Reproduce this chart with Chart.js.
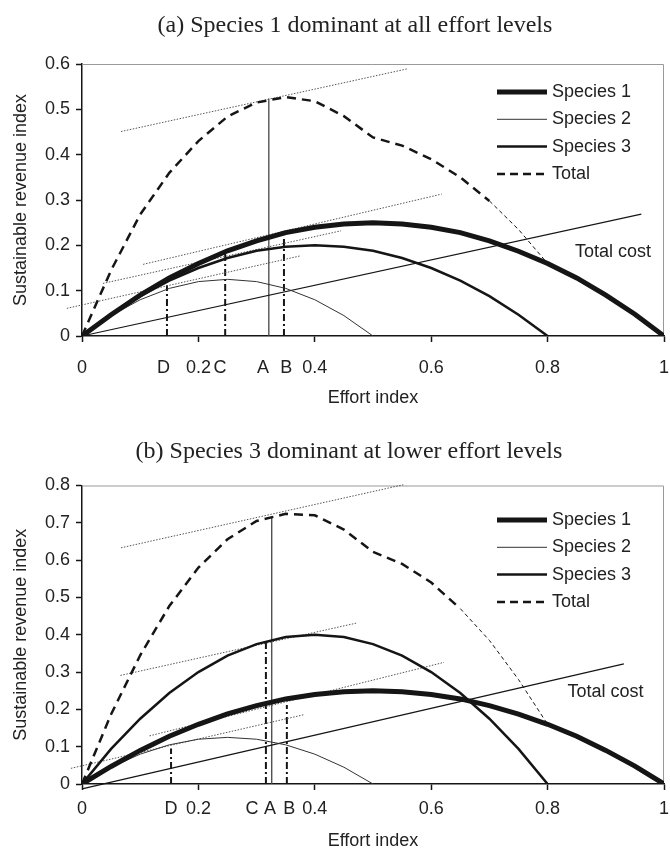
<!DOCTYPE html>
<html lang="en">
<head>
  <meta charset="UTF-8" />
  <title>Sustainable revenue and effort</title>
  <style>
    body { margin: 0; background: #fff; }
    .panel { position: relative; width: 670px; height: 426px; }
    .panel canvas { display: block; }
    .title {
      position: absolute; left: 0; top: 9px; margin: 0;
      font: normal 24px "Liberation Serif", "Times New Roman", serif;
      line-height: 30px; text-align: center; color: #222;
    }
  </style>
</head>
<body>

  <div class="panel">
    <h2 class="title" style="width: 710px;">(a) Species 1 dominant at all effort levels</h2>
    <canvas id="chartA" width="670" height="426"></canvas>
  </div>
  <div class="panel">
    <h2 class="title" style="width: 698px;">(b) Species 3 dominant at lower effort levels</h2>
    <canvas id="chartB" width="670" height="426"></canvas>
  </div>

  <script src="https://cdn.jsdelivr.net/npm/chart.js"></script>
  <script>
    // effort index grid used by all curves
    const effort = [0, 0.05, 0.1, 0.15, 0.2, 0.25, 0.3, 0.35, 0.4, 0.45, 0.5,
                    0.55, 0.6, 0.65, 0.7, 0.75, 0.8, 0.85, 0.9, 0.95, 1];

    const xTickValues = [0, 0.2, 0.4, 0.6, 0.8, 1];
    const markNames = ['D', 'C', 'A', 'B'];

    // (a) Species 1 dominant
    const species1A = [0, 0.047, 0.09, 0.128, 0.16, 0.188, 0.21, 0.228, 0.24, 0.247, 0.25,
                       0.247, 0.24, 0.228, 0.21, 0.187, 0.16, 0.128, 0.09, 0.048, 0];
    const species2A = [0, 0.045, 0.08, 0.105, 0.12, 0.125, 0.12, 0.105, 0.08, 0.045, 0];
    const species3A = [0, 0.047, 0.088, 0.122, 0.15, 0.172, 0.188, 0.197, 0.2, 0.197, 0.188,
                       0.172, 0.15, 0.122, 0.088, 0.047, 0];
    const totalA = [0, 0.145, 0.268, 0.36, 0.43, 0.484, 0.515, 0.527, 0.518, 0.485, 0.438,
                    0.42, 0.39, 0.35, 0.298, 0.235, 0.16, 0.128, 0.09, 0.048, 0];
    const costA = [[0, 0], [0.961, 0.269]];
    const tangentsA = [
      [0.067, 0.451, 0.558, 0.589],
      [0.105, 0.158, 0.618, 0.313],
      [0.036, 0.116, 0.445, 0.232],
      [-0.026, 0.061, 0.376, 0.177]
    ];
    const markXA = [0.146, 0.246, 0.321, 0.347];
    const markTopA = [0.112, 0.185, 0.524, 0.22];
    const markLabelXA = [0.140, 0.237, 0.311, 0.351];

    // (b) Species 3 dominant at lower effort
    const species1B = [0, 0.047, 0.09, 0.128, 0.16, 0.188, 0.21, 0.228, 0.24, 0.247, 0.25,
                       0.247, 0.24, 0.228, 0.21, 0.187, 0.16, 0.128, 0.09, 0.048, 0];
    const species2B = [0, 0.045, 0.08, 0.105, 0.12, 0.125, 0.12, 0.105, 0.08, 0.045, 0];
    const species3B = [0, 0.094, 0.175, 0.244, 0.3, 0.344, 0.375, 0.394, 0.4, 0.394, 0.375,
                       0.344, 0.3, 0.244, 0.175, 0.094, 0];
    const totalB = [0, 0.187, 0.345, 0.477, 0.58, 0.656, 0.705, 0.724, 0.72, 0.682, 0.622,
                    0.59, 0.54, 0.47, 0.385, 0.28, 0.16, 0.128, 0.09, 0.048, 0];
    const costB = [[0, -0.013], [0.931, 0.322]];
    const tangentsB = [
      [0.067, 0.633, 0.552, 0.802],
      [0.066, 0.291, 0.471, 0.431],
      [0.116, 0.129, 0.622, 0.326],
      [-0.019, 0.042, 0.382, 0.186]
    ];
    const markXB = [0.153, 0.316, 0.326, 0.352];
    const markTopB = [0.095, 0.384, 0.713, 0.212];
    const markLabelXB = [0.153, 0.292, 0.323, 0.356];

    const INK = '#151515';
    const SANS = '"Liberation Sans", Arial, sans-serif';

    function curve(ys) {
      return ys.map((y, i) => ({x: effort[i], y}));
    }

    function pair(p) {
      return p.map(([x, y]) => ({x, y}));
    }

    function line(data, extra) {
      return Object.assign({
        data,
        borderColor: INK,
        borderWidth: 1,
        pointRadius: 0,
        pointHoverRadius: 0,
        tension: 0,
        fill: false
      }, extra);
    }

    function buildDatasets(p) {
      const sets = [
        line(curve(p.s1), {label: 'Species 1', borderWidth: 5, inLegend: true}),
        line(curve(p.s2), {label: 'Species 2', borderWidth: 1, borderColor: '#333', inLegend: true}),
        line(curve(p.s3), {label: 'Species 3', borderWidth: 2.5, inLegend: true}),
        line(curve(p.total), {
          label: 'Total', borderWidth: 2.5, borderDash: [9, 6], inLegend: true,
          segment: {
            borderWidth: ctx => ctx.p0.parsed.x >= p.thinFrom && ctx.p0.parsed.x < 0.8 ? 1 : undefined,
            borderDash: ctx => ctx.p0.parsed.x >= p.thinFrom && ctx.p0.parsed.x < 0.8 ? [4, 3] : undefined
          }
        }),
        line(pair(p.cost), {label: 'Total cost', borderWidth: 1.2, clip: false})
      ];
      p.tangents.forEach(t => {
        sets.push(line(pair([[t[0], t[1]], [t[2], t[3]]]), {
          label: 'tangent', borderColor: '#555', borderWidth: 1, borderDash: [1.5, 1.5], clip: false
        }));
      });
      markNames.forEach((name, i) => {
        const solid = name === 'A';
        sets.push(line(pair([[p.markX[i], 0], [p.markX[i], p.markTop[i]]]), {
          label: name,
          borderColor: solid ? '#444' : INK,
          borderWidth: solid ? 1.3 : 2,
          borderDash: solid ? [] : [7, 3, 2, 3]
        }));
      });
      return sets;
    }

    const framePlugin = {
      id: 'frame',
      beforeDatasetsDraw(chart) {
        const {ctx, chartArea: a} = chart;
        ctx.save();
        ctx.strokeStyle = '#999';
        ctx.lineWidth = 1;
        ctx.beginPath();
        ctx.moveTo(a.left, a.top + 0.5);
        ctx.lineTo(a.right - 0.5, a.top + 0.5);
        ctx.lineTo(a.right - 0.5, a.bottom);
        ctx.stroke();
        ctx.restore();
      }
    };

    const sideLegend = {
      id: 'sideLegend',
      afterDatasetsDraw(chart, args, opts) {
        const {ctx, chartArea: a, scales} = chart;
        ctx.save();
        ctx.font = '18px ' + SANS;
        ctx.textBaseline = 'middle';
        ctx.fillStyle = '#222';
        chart.data.datasets.filter(d => d.inLegend).forEach((d, i) => {
          const y = a.top + opts.top + i * opts.gap;
          const x0 = a.right + opts.right;
          ctx.strokeStyle = d.borderColor;
          ctx.lineWidth = d.label === 'Total' ? 2.5 : d.borderWidth;
          ctx.setLineDash(d.label === 'Total' ? [8, 5] : []);
          ctx.beginPath();
          ctx.moveTo(x0, y);
          ctx.lineTo(x0 + opts.lineLen, y);
          ctx.stroke();
          ctx.fillText(d.label, x0 + opts.lineLen + 5, y);
        });
        ctx.fillText('Total cost', scales.x.getPixelForValue(opts.costAt[0]),
                     scales.y.getPixelForValue(opts.costAt[1]));
        ctx.restore();
      }
    };

    function makeChart(id, p) {
      const letterAt = v => p.markLabelX.indexOf(v);
      new Chart(document.getElementById(id), {
        type: 'line',
        data: { datasets: buildDatasets(p) },
        plugins: [framePlugin, sideLegend],
        options: {
          animation: false,
          responsive: false,
          layout: { padding: { top: p.padTop, right: 6, left: 0, bottom: 0 } },
          plugins: {
            legend: { display: false },
            tooltip: { enabled: false },
            sideLegend: { top: p.legendTop, gap: 27.3, right: -167, lineLen: 50, costAt: p.costAt }
          },
          scales: {
            x: {
              type: 'linear',
              min: 0,
              max: 1,
              afterFit: s => {
                s.height = p.xHeight;
                s.paddingLeft = 0;
                s.paddingRight = 0;
              },
              afterBuildTicks: s => {
                s.ticks = xTickValues.concat(p.markLabelX)
                  .sort((a, b) => a - b)
                  .map(v => ({value: v}));
              },
              ticks: {
                autoSkip: false,
                maxRotation: 0,
                minRotation: 0,
                padding: p.xTickPad,
                color: '#222',
                font: { family: SANS, size: 18 },
                callback: v => letterAt(v) >= 0 ? markNames[letterAt(v)] : String(v)
              },
              grid: {
                drawOnChartArea: false,
                drawTicks: true,
                tickLength: 6,
                tickWidth: 1.5,
                tickColor: ctx => ctx.tick && letterAt(ctx.tick.value) >= 0 ? 'rgba(0,0,0,0)' : INK
              },
              border: { color: INK, width: 1.5 },
              title: {
                display: true,
                text: 'Effort index',
                color: '#222',
                font: { family: SANS, size: 18 },
                padding: { top: 0, bottom: p.xTitlePad }
              }
            },
            y: {
              min: 0,
              max: p.yMax,
              afterFit: s => {
                s.width = 82;
                s.paddingTop = 0;
                s.paddingBottom = 0;
              },
              ticks: {
                stepSize: 0.1,
                padding: 6,
                color: '#222',
                font: { family: SANS, size: 18 },
                callback: v => v === 0 ? '0' : v.toFixed(1)
              },
              grid: {
                drawOnChartArea: false,
                drawTicks: true,
                tickLength: 6,
                tickWidth: 1.5,
                tickColor: INK
              },
              border: { color: INK, width: 1.5 },
              title: {
                display: true,
                text: 'Sustainable revenue index',
                color: '#222',
                font: { family: SANS, size: 18 },
                padding: { top: 10, bottom: 0 }
              }
            }
          }
        }
      });
    }

    makeChart('chartA', {
      s1: species1A, s2: species2A, s3: species3A, total: totalA, thinFrom: 0.7,
      cost: costA, tangents: tangentsA,
      markX: markXA, markTop: markTopA, markLabelX: markLabelXA,
      yMax: 0.6, padTop: 64, xHeight: 90, xTickPad: 15, xTitlePad: 17,
      legendTop: 28, costAt: [0.847, 0.186]
    });

    makeChart('chartB', {
      s1: species1B, s2: species2B, s3: species3B, total: totalB, thinFrom: 0.65,
      cost: costB, tangents: tangentsB,
      markX: markXB, markTop: markTopB, markLabelX: markLabelXB,
      yMax: 0.8, padTop: 59.5, xHeight: 68, xTickPad: 8, xTitlePad: 0,
      legendTop: 34.5, costAt: [0.834, 0.246]
    });
  </script>
</body>
</html>
